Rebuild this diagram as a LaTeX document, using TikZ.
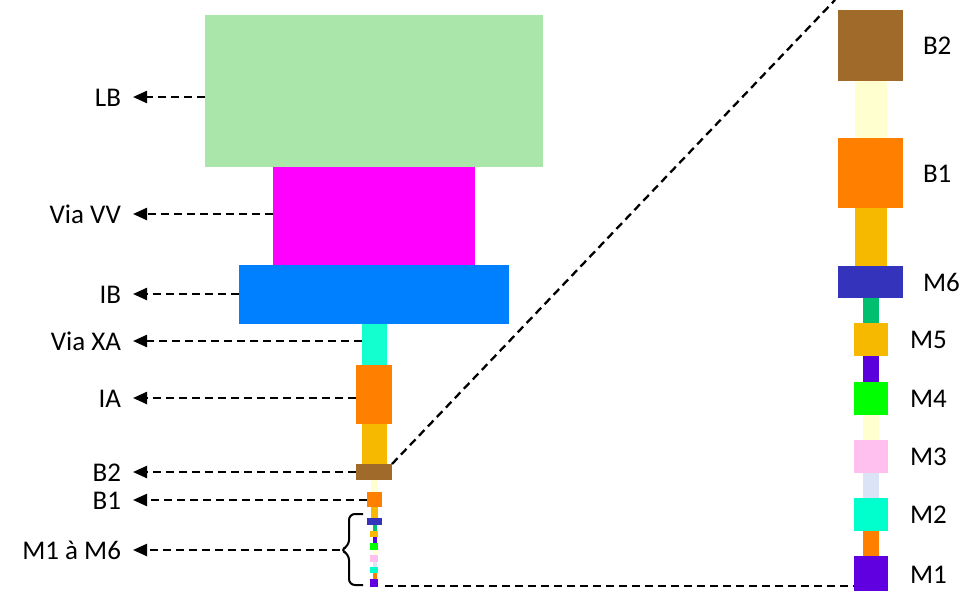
\documentclass[tikz,border=0pt]{standalone}
\usepackage{fontspec}
\setmainfont{Carlito}
\usetikzlibrary{arrows.meta,positioning}
\definecolor{cLB}{RGB}{170,229,170}
\definecolor{cVV}{RGB}{255,0,255}
\definecolor{cIB}{RGB}{0,128,255}
\definecolor{cXA}{RGB}{20,255,208}
\definecolor{cOr}{RGB}{255,128,0}
\definecolor{cYel}{RGB}{247,184,0}
\definecolor{cB2}{RGB}{160,106,42}
\definecolor{cPY}{RGB}{255,255,208}
\definecolor{cM6}{RGB}{51,51,187}
\definecolor{cTeal}{RGB}{0,192,112}
\definecolor{cPur}{RGB}{90,0,220}
\definecolor{cGr}{RGB}{0,255,0}
\definecolor{cPink}{RGB}{255,192,240}
\definecolor{cLBl}{RGB}{218,228,246}
\definecolor{cAq}{RGB}{0,255,204}
\definecolor{cM1}{RGB}{96,0,224}
\newcommand\rbox[6]{\node[layer, fill=#2, minimum width={(#5-#3)*1pt}, minimum height={(#6-#4)*1pt}] (#1) at ({(#3+#5)/2},{(#4+#6)/2}) {};}
\begin{document}
\begin{tikzpicture}[x=1pt,y=-1pt,
  layer/.style={rectangle, draw=none, inner sep=0pt, outer sep=0pt},
  lbl/.style={inner sep=0pt, outer sep=0pt, font=\fontsize{27}{32}\selectfont, text height=18pt, text depth=0pt},
  lblL/.style={lbl, anchor=east, outer xsep=12pt},
  arr/.style={draw=black, line width=2.3pt, dash pattern=on 8pt off 5pt, -{Triangle[length=14pt,width=12pt]}},
  zl/.style={draw=black, line width=2.3pt, dash pattern=on 8pt off 5pt},
  bracestyle/.style={draw=black, line width=2pt, rounded corners=6pt}]
\useasboundingbox (0,0) rectangle (968,590);
% left stack
\rbox{LB}{cLB}{205}{15}{543}{167}
\rbox{VV}{cVV}{273}{167}{475}{265}
\rbox{IB}{cIB}{239}{265}{509}{324}
\rbox{XA}{cXA}{362}{324}{387}{365}
\rbox{IA}{cOr}{356}{365}{392}{424}
\rbox{vY}{cYel}{362}{424}{387}{464}
\rbox{B2s}{cB2}{356}{464}{392}{480}
\rbox{vBs}{cPY}{371}{480}{378}{492}
\rbox{B1s}{cOr}{367}{492}{382}{507}
\rbox{vAs}{cYel}{371}{507}{378}{518}
\rbox{M6s}{cM6}{367}{518}{382}{525}
\rbox{v5s}{cTeal}{372.5}{525}{376.5}{531}
\rbox{M5s}{cYel}{370}{531}{378}{537}
\rbox{v4s}{cPur}{372.5}{537}{376.5}{543}
\rbox{M4s}{cGr}{370}{543}{378}{550}
\rbox{v3s}{cPY}{372.5}{550}{376.5}{555}
\rbox{M3s}{cPink}{370}{555}{378}{562}
\rbox{v2s}{cLBl}{372.5}{562}{376.5}{567}
\rbox{M2s}{cAq}{370}{567}{378}{573}
\rbox{v1s}{cOr}{372.5}{573}{376.5}{579}
\rbox{M1s}{cM1}{370}{579}{378}{587}
% right stack
\rbox{B2r}{cB2}{838}{10}{903}{81}
\rbox{vBr}{cPY}{855}{81}{887}{138}
\rbox{B1r}{cOr}{838}{138}{903}{208}
\rbox{vAr}{cYel}{855}{208}{887}{266}
\rbox{M6r}{cM6}{838}{266}{903}{298}
\rbox{v5r}{cTeal}{863}{298}{879}{323}
\rbox{M5r}{cYel}{854}{323}{888}{356}
\rbox{v4r}{cPur}{863}{356}{879}{382}
\rbox{M4r}{cGr}{854}{382}{888}{415}
\rbox{v3r}{cPY}{863}{415}{879}{440}
\rbox{M3r}{cPink}{854}{440}{888}{473}
\rbox{v2r}{cLBl}{863}{473}{879}{498}
\rbox{M2r}{cAq}{854}{498}{888}{531}
\rbox{v1r}{cOr}{863}{531}{879}{556}
\rbox{M1r}{cM1}{854}{556}{888}{592}
% right labels
\node[lbl, anchor=west, right=20pt of B2r] (tB2r) {B2};
\node[lbl, anchor=west, right=20pt of B1r] (tB1r) {B1};
\node[lbl, anchor=west, right=20pt of M6r] (tM6r) {M6};
\node[lbl, anchor=west, right=22pt of M5r] (tM5r) {M5};
\node[lbl, anchor=west, right=22pt of M4r] (tM4r) {M4};
\node[lbl, anchor=west, right=22pt of M3r] (tM3r) {M3};
\node[lbl, anchor=west, right=22pt of M2r] (tM2r) {M2};
\node[lbl, anchor=west, right=22pt of M1r] (tM1r) {M1};
% left labels
\node[lblL] (tLB) at (133,97) {LB};
\node[lblL] (tVV) at (133,214) {Via VV};
\node[lblL] (tIB) at (133,294) {IB};
\node[lblL] (tXA) at (133,341) {Via XA};
\node[lblL] (tIA) at (133,398) {IA};
\node[lblL] (tB2) at (133,472) {B2};
\node[lblL] (tB1) at (133,500) {B1};
\node[lblL] (tM) at (133,550) {M1 à M6};
% arrows
\draw[arr] (LB.west |- tLB.east) -- (tLB.east);
\draw[arr] (VV.west |- tVV.east) -- (tVV.east);
\draw[arr] (IB.west |- tIB.east) -- (tIB.east);
\draw[arr] (XA.west |- tXA.east) -- (tXA.east);
\draw[arr] (IA.west |- tIA.east) -- (tIA.east);
\draw[arr] (B2s.west |- tB2.east) -- (tB2.east);
\draw[arr] (B1s.west |- tB1.east) -- (tB1.east);
% brace
\coordinate (btip) at (340,550);
\draw[bracestyle] (363,514) -- (349,514) -- (349,546) -- (btip) -- (349,554) -- (349,585) -- (363,585);
\draw[arr] (btip) -- (tM.east);
% zoom lines
\coordinate (zt) at (835,0);
\draw[zl] (B2s.north east) -- (zt);
\coordinate (zb) at (385,586);
\draw[zl] (zb) -- (M1r.west |- zb);
\end{tikzpicture}
\end{document}
